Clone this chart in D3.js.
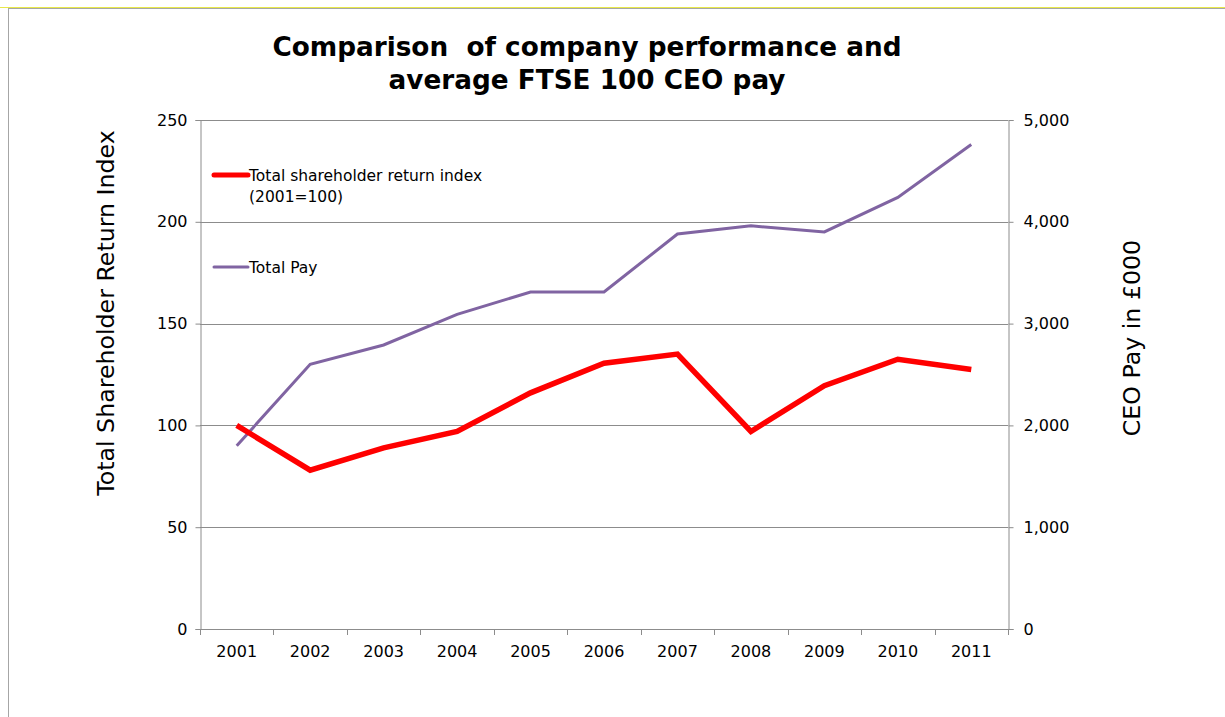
<!DOCTYPE html>
<html>
<head>
<meta charset="utf-8">
<script src="https://cdn.jsdelivr.net/npm/d3@7"></script>
<style>
  body { margin: 0; background: #fff; }
  text { font-family: Verdana, "DejaVu Sans", sans-serif; fill: #000; }
</style>
</head>
<body>
<svg id="chart" width="1225" height="717"></svg>
<script>
// data
const years = ["2001","2002","2003","2004","2005","2006","2007","2008","2009","2010","2011"];
const tsrIndex = [100, 78, 89, 97, 116, 130.5, 135, 97, 119.5, 132.5, 127.5];
const totalPay = [1800, 2600, 2790, 3090, 3310, 3310, 3880, 3960, 3900, 4240, 4760];
const leftTicks = [0, 50, 100, 150, 200, 250];
const rightTicks = [0, 1000, 2000, 3000, 4000, 5000];

const svg = d3.select("#chart");
const plotL = 200, plotR = 1008, plotT = 120, plotB = 629;
const gridCol = "#8c8c8c";

// outer frame
svg.append("line").attr("x1", 0).attr("x2", 1225).attr("y1", 7.5).attr("y2", 7.5)
  .attr("stroke", "#e8e84a").attr("stroke-width", 1);
svg.append("rect").attr("x", 8.5).attr("y", 8.5).attr("width", 1230).attr("height", 720)
  .attr("fill", "none").attr("stroke", "#a6a6a6").attr("stroke-width", 1);

const x = d3.scaleBand().domain(years).range([plotL, plotR]);
const yL = d3.scaleLinear().domain([0, 250]).range([plotB, plotT]);
const yR = d3.scaleLinear().domain([0, 5000]).range([plotB, plotT]);

// gridlines
svg.append("g").selectAll("line").data(leftTicks.slice(1)).enter().append("line")
  .attr("x1", plotL).attr("x2", plotR)
  .attr("y1", d => Math.round(yL(d)) + 0.5).attr("y2", d => Math.round(yL(d)) + 0.5)
  .attr("stroke", gridCol);

// left axis
const gL = svg.append("g").attr("transform", `translate(${plotL + 0.5},0)`)
  .call(d3.axisLeft(yL).tickValues(leftTicks).tickSize(5).tickPadding(8));
// right axis
const gR = svg.append("g").attr("transform", `translate(${plotR + 0.5},0)`)
  .call(d3.axisRight(yR).tickValues(rightTicks).tickSize(5).tickPadding(10)
    .tickFormat(d3.format(",")));
// bottom axis
const gB = svg.append("g").attr("transform", `translate(0,${plotB + 0.5})`)
  .call(d3.axisBottom(x).tickSize(0).tickPadding(16));
// category boundary ticks
svg.append("g").selectAll("line").data(years.concat(["end"])).enter().append("line")
  .attr("x1", (d, i) => Math.round(plotL + i * x.step()) + 0.5)
  .attr("x2", (d, i) => Math.round(plotL + i * x.step()) + 0.5)
  .attr("y1", plotB).attr("y2", plotB + 6)
  .attr("stroke", gridCol);

[gL, gR, gB].forEach(g => {
  g.select(".domain").attr("stroke", gridCol);
  g.selectAll(".tick line").attr("stroke", gridCol);
  g.selectAll("text").attr("font-size", 16).attr("fill", "#000")
    .attr("font-family", "Verdana, 'DejaVu Sans', sans-serif");
});
gB.select(".domain").attr("d", `M${plotL},0H${plotR}`);

// lines
const cx = d => x(d) + x.bandwidth() / 2;
const payLine = d3.line().x((d, i) => cx(years[i])).y(d => yR(d));
const tsrLine = d3.line().x((d, i) => cx(years[i])).y(d => yL(d));

svg.append("path").datum(totalPay).attr("d", payLine)
  .attr("fill", "none").attr("stroke", "#8064a2").attr("stroke-width", 3);
svg.append("path").datum(tsrIndex).attr("d", tsrLine)
  .attr("fill", "none").attr("stroke", "#ff0000").attr("stroke-width", 5.5);

// legend
const legend = [
  { color: "#ff0000", w: 5, y: 175, lines: ["Total shareholder return index", "(2001=100)"] },
  { color: "#8064a2", w: 3, y: 267, lines: ["Total Pay"] }
];
legend.forEach(l => {
  svg.append("line").attr("x1", 214).attr("x2", 248).attr("y1", l.y).attr("y2", l.y)
    .attr("stroke", l.color).attr("stroke-width", l.w).attr("stroke-linecap", "round");
  l.lines.forEach((t, i) => {
    svg.append("text").attr("x", 249).attr("y", l.y + 6 + i * 21)
      .attr("font-size", 15.5).text(t);
  });
});

// title
["Comparison  of company performance and", "average FTSE 100 CEO pay"].forEach((t, i) => {
  svg.append("text").attr("x", 587).attr("y", 56 + i * 33)
    .attr("text-anchor", "middle").attr("font-size", 26.3).attr("font-weight", "bold")
    .attr("xml:space", "preserve").style("white-space", "pre").text(t);
});

// axis titles
svg.append("text").attr("transform", "translate(114,313) rotate(-90)")
  .attr("text-anchor", "middle").attr("font-size", 23.7).text("Total Shareholder Return Index");
svg.append("text").attr("transform", "translate(1140,338) rotate(-90)")
  .attr("text-anchor", "middle").attr("font-size", 23.7).text("CEO Pay in £000");
</script>
</body>
</html>
